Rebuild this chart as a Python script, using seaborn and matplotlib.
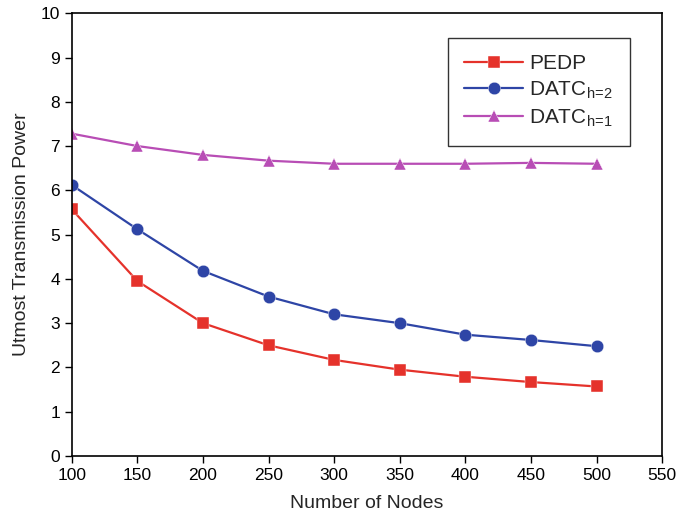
"""
Utmost transmission power vs number of nodes.
"""
import pandas as pd
import seaborn as sns
import matplotlib.pyplot as plt

nodes = [100, 150, 200, 250, 300, 350, 400, 450, 500]
pedp = [5.57, 3.95, 3.0, 2.5, 2.17, 1.95, 1.79, 1.67, 1.57]
datc_h2 = [6.12, 5.12, 4.18, 3.6, 3.2, 3.0, 2.74, 2.62, 2.48]
datc_h1 = [7.28, 7.0, 6.8, 6.67, 6.6, 6.6, 6.6, 6.62, 6.6]

labels = ["PEDP", r"DATC$_{\rm h\!=\!2}$", r"DATC$_{\rm h\!=\!1}$"]


def main():
    sns.set_style("ticks")
    plt.rcParams["font.family"] = ["Liberation Sans", "DejaVu Sans"]
    plt.rcParams["mathtext.fontset"] = "custom"
    plt.rcParams["mathtext.rm"] = "Liberation Sans"

    # long format for seaborn
    df = pd.DataFrame({
        "nodes": nodes * 3,
        "power": pedp + datc_h2 + datc_h1,
        "series": [labels[0]] * len(nodes) + [labels[1]] * len(nodes) + [labels[2]] * len(nodes),
    })

    palette = {labels[0]: "#e5322b", labels[1]: "#2e45a6", labels[2]: "#b84db5"}
    markers = {labels[0]: "s", labels[1]: "o", labels[2]: "^"}

    fig = plt.figure(figsize=(6.84, 5.29), dpi=100)
    ax = fig.add_axes([0.105, 0.138, 0.863, 0.837])
    sns.lineplot(data=df, x="nodes", y="power", hue="series", style="series",
                 palette=palette, markers=markers, dashes=False,
                 markersize=9, linewidth=1.6, markeredgewidth=0.3, ax=ax)

    ax.set_xlim(100, 550)
    ax.set_ylim(0, 10)
    ax.set_xticks(range(100, 551, 50))
    ax.set_yticks(range(0, 11))
    ax.set_xlabel("Number of Nodes", fontsize=14, labelpad=9)
    ax.set_ylabel("Utmost Transmission Power", fontsize=14, labelpad=8)
    ax.tick_params(axis="both", labelsize=12.5, direction="out", length=5, width=1,
                   colors="black", top=False, right=False)
    for s in ax.spines.values():
        s.set_visible(True)
        s.set_color("black")
        s.set_linewidth(1.2)

    leg = ax.legend(loc="upper right", bbox_to_anchor=(0.945, 0.945), fontsize=15,
                    frameon=True, fancybox=False, edgecolor="black",
                    handlelength=2.8, handletextpad=0.3, borderpad=0.8,
                    labelspacing=0.3, borderaxespad=0)
    leg.get_frame().set_linewidth(1.0)

    fig.savefig("out.png", dpi=100)


if __name__ == "__main__":
    main()
